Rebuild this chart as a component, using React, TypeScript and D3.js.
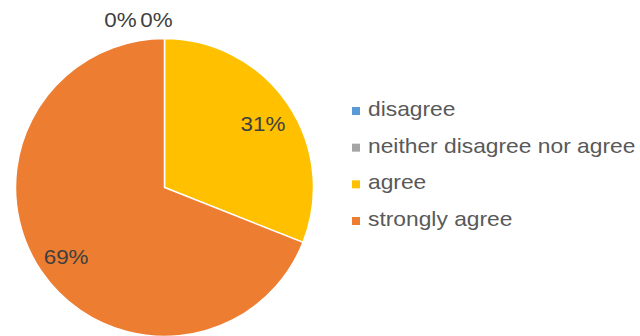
import React from "react";
import * as d3 from "d3";

const categories = ["disagree", "neither disagree nor agree", "agree", "strongly agree"];
const values = [0, 0, 31, 69];
const labels = ["0%", "0%", "31%", "69%"];
const colors = ["#5B9BD5", "#A5A5A5", "#FFC000", "#ED7D31"];

const W = 640;
const H = 336;
const cx = 164.5;
const cy = 187.5;
const R = 149;
const FONT = "'Liberation Sans', Arial, sans-serif";

export default function App() {
  const pie = d3.pie<number>().sort(null).value((d) => d)(values);
  const arc = d3.arc<d3.PieArcDatum<number>>().innerRadius(0).outerRadius(R);
  const labelArc = d3.arc<d3.PieArcDatum<number>>().innerRadius(119).outerRadius(119);
  const legendY = d3.scalePoint<string>().domain(categories).range([116, 226]);
  // zero-value slices get outside labels spread to the left of the top point
  const zeroShift = [-44, -8];
  let zi = 0;

  return (
    <svg
      width={W}
      height={H}
      style={{ position: "absolute", left: 0, top: 0, background: "#fff" }}
    >
      <g transform={`translate(${cx},${cy})`}>
        {pie.map((p, i) =>
          p.value > 0 ? (
            <path key={i} d={arc(p) || ""} fill={colors[i]} stroke="#fff" strokeWidth={1.5} />
          ) : null
        )}
        {pie.map((p, i) => {
          let x: number, y: number;
          if (p.value > 0) {
            const c = labelArc.centroid(p);
            x = c[0];
            y = c[1] + 10;
          } else {
            const a = p.startAngle;
            x = Math.sin(a) * (R + 12) + zeroShift[zi++ % 2];
            y = -Math.cos(a) * (R + 12) + 0.5;
          }
          return (
            <text
              key={"l" + i}
              transform={`translate(${x},${y}) scale(1.12,1)`}
              textAnchor="middle"
              fontFamily={FONT}
              fontSize={20}
              fill="#404040"
            >
              {labels[i]}
            </text>
          );
        })}
      </g>
      <g>
        {categories.map((c, i) => {
          const y = legendY(c) as number;
          return (
            <g key={c}>
              <rect x={352} y={y - 9} width={8} height={8} fill={colors[i]} />
              <text
                transform={`translate(368,${y}) scale(1.14,1)`}
                fontFamily={FONT}
                fontSize={20}
                fill="#595959"
              >
                {c}
              </text>
            </g>
          );
        })}
      </g>
    </svg>
  );
}
